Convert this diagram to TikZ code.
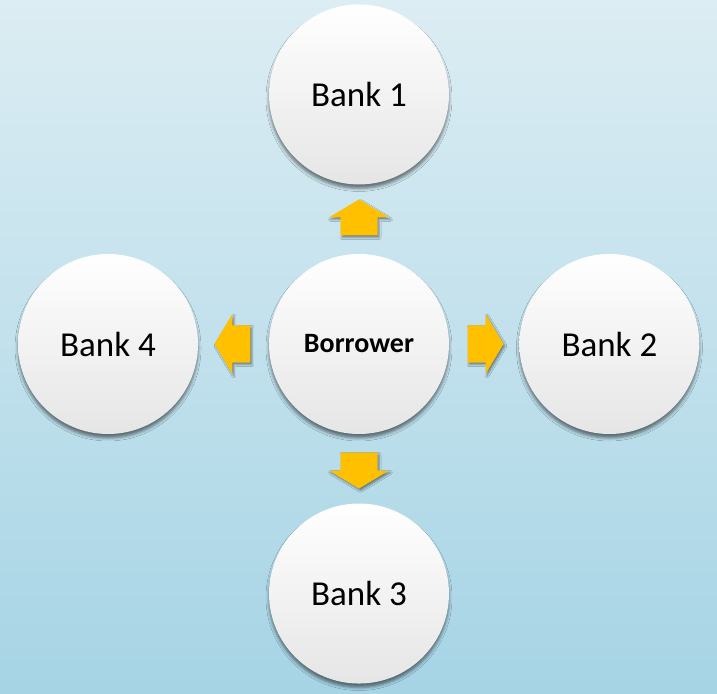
\documentclass[tikz,border=0pt]{standalone}
\usepackage{fontspec}
\setmainfont{Carlito}
\usepackage{tikz}
\usetikzlibrary{shadows.blur}
\definecolor{skytop}{RGB}{220,237,243}
\definecolor{skybot}{RGB}{166,212,229}
\definecolor{gold}{RGB}{255,192,0}
\tikzstyle{bank} = [circle, minimum size=180pt, inner sep=0pt, top color=white, middle color=white, bottom color=black!10, blur shadow={shadow xshift=0pt, shadow yshift=-4pt, shadow blur radius=3pt, shadow opacity=50}, font=\fontsize{35}{40}\selectfont]
\tikzstyle{borrower} = [bank, font=\fontsize{28}{32}\selectfont\bfseries]
\tikzstyle{flow} = [fill=gold, blur shadow={shadow xshift=1.5pt, shadow yshift=-2pt, shadow blur radius=2pt, shadow opacity=45}]

\begin{document}
\begin{tikzpicture}
    % sky background
    \shade[top color=skytop, bottom color=skybot] (-359pt,-349pt) rectangle (358pt,344pt);
    \useasboundingbox (-359pt,-349pt) rectangle (358pt,344pt);
    \node (Borrower) [borrower] at (0,0) {Borrower};
    \node (Bank1) [bank] at (0,8.77) {Bank 1};
    \node (Bank2) [bank] at (8.80,0) {Bank 2};
    \node (Bank3) [bank] at (0,-8.77) {Bank 3};
    \node (Bank4) [bank] at (-8.82,0) {Bank 4};
    % block arrows from the borrower out to each bank
    \foreach \a in {0,90,180,270}
        \path[flow, shift={(Borrower.center)}, rotate=\a, xshift=126.5pt]
            (-18pt,-18.5pt) -- (0pt,-18.5pt) -- (0pt,-30pt) -- (18pt,0pt)
            -- (0pt,30pt) -- (0pt,18.5pt) -- (-18pt,18.5pt) -- cycle;
\end{tikzpicture}
\end{document}
